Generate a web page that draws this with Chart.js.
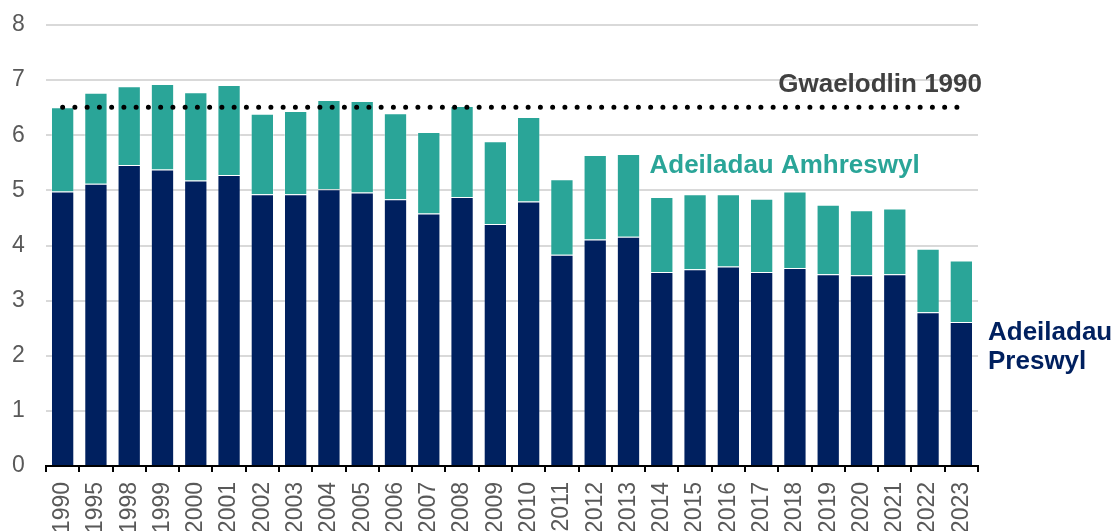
<!DOCTYPE html>
<html>
<head>
<meta charset="utf-8">
<script src="https://cdn.jsdelivr.net/npm/chart.js@4"></script>
<style>
  html, body { margin: 0; padding: 0; background: #fff; }
  canvas { display: block; }
</style>
</head>
<body>
<canvas id="emissions" width="1113" height="531"></canvas>
<script>
// 🔹 data
const years = [
  "1990", "1995", "1998", "1999", "2000", "2001", "2002", "2003", "2004", "2005",
  "2006", "2007", "2008", "2009", "2010", "2011", "2012", "2013", "2014", "2015",
  "2016", "2017", "2018", "2019", "2020", "2021", "2022", "2023"
];
const residential = [
  4.98, 5.12, 5.46, 5.38, 5.18, 5.28, 4.93, 4.93, 5.02, 4.96,
  4.84, 4.58, 4.88, 4.39, 4.80, 3.83, 4.11, 4.16, 3.52, 3.57,
  3.62, 3.52, 3.59, 3.48, 3.46, 3.48, 2.79, 2.61
];
const nonResidential = [
  1.53, 1.65, 1.43, 1.55, 1.60, 1.63, 1.46, 1.51, 1.62, 1.66,
  1.56, 1.48, 1.65, 1.50, 1.53, 1.37, 1.53, 1.50, 1.36, 1.36,
  1.31, 1.33, 1.39, 1.26, 1.18, 1.19, 1.15, 1.12
];
const baseline1990 = 6.51;
const yTicks = [0, 1, 2, 3, 4, 5, 6, 7, 8];

const NAVY = "#00205f";
const TEAL = "#2aa598";
const TICK_GREY = "#595959";
const FONT = "'Liberation Sans', Arial, sans-serif";

// 🔹 text labels next to the bars
const seriesLabels = {
  id: "seriesLabels",
  afterDatasetsDraw(chart) {
    const { ctx, chartArea, scales } = chart;
    const x = scales.x, y = scales.y;
    ctx.save();
    ctx.font = `bold 26px ${FONT}`;
    ctx.textBaseline = "middle";

    ctx.fillStyle = "#404040";
    ctx.textAlign = "right";
    ctx.fillText("Gwaelodlin 1990", chartArea.right + 4, y.getPixelForValue(baseline1990) - 22);

    ctx.fillStyle = TEAL;
    ctx.textAlign = "left";
    ctx.fillText("Adeiladau Amhreswyl", x.getPixelForValue(17) + 21, y.getPixelForValue(5.44));

    ctx.fillStyle = NAVY;
    ctx.fillText("Adeiladau", chartArea.right + 10, y.getPixelForValue(2.42));
    ctx.fillText("Preswyl", chartArea.right + 10, y.getPixelForValue(1.89));
    ctx.restore();
  }
};

function drawChart() {
  const ctx = document.getElementById("emissions").getContext("2d");

  new Chart(ctx, {
    type: "bar",
    data: {
      labels: years,
      datasets: [
        {
          type: "line",
          label: "Gwaelodlin 1990",
          data: years.map(() => baseline1990),
          stack: "baseline",
          borderColor: "#000",
          borderWidth: 5,
          borderDash: [0, 12.25],
          borderCapStyle: "round",
          pointRadius: 0,
          fill: false,
          order: 0
        },
        {
          label: "Adeiladau Preswyl",
          data: residential,
          stack: "buildings",
          backgroundColor: NAVY,
          borderColor: "rgba(255,255,255,0.12)",
          borderWidth: 1,
          categoryPercentage: 1,
          barPercentage: 0.7,
          order: 1
        },
        {
          label: "Adeiladau Amhreswyl",
          data: nonResidential,
          stack: "buildings",
          backgroundColor: TEAL,
          borderColor: "rgba(255,255,255,0.3)",
          borderWidth: 1,
          categoryPercentage: 1,
          barPercentage: 0.7,
          order: 1
        }
      ]
    },
    options: {
      responsive: false,
      animation: false,
      layout: { padding: { top: 25, right: 135, left: 12, bottom: 0 } },
      plugins: {
        legend: { display: false },
        title: { display: false },
        tooltip: { enabled: false }
      },
      scales: {
        x: {
          stacked: true,
          afterFit: (scale) => { scale.height = 65; },
          border: { display: true, color: "#000", width: 2 },
          grid: {
            display: true,
            offset: true,
            drawOnChartArea: false,
            drawTicks: true,
            tickLength: 6,
            color: "#000",
            lineWidth: 2
          },
          ticks: {
            autoSkip: false,
            maxRotation: 90,
            minRotation: 90,
            padding: 10,
            color: TICK_GREY,
            font: { family: FONT, size: 23 }
          }
        },
        y: {
          stacked: true,
          min: 0,
          max: 8,
          afterFit: (scale) => { scale.width = 34; },
          afterBuildTicks: (scale) => { scale.ticks = yTicks.map(v => ({ value: v })); },
          border: { display: false },
          grid: { color: "#d9d9d9", lineWidth: 2, drawTicks: false },
          ticks: {
            padding: 0,
            crossAlign: "far",
            color: TICK_GREY,
            font: { family: FONT, size: 23 }
          }
        }
      }
    },
    plugins: [seriesLabels]
  });
}

drawChart();
</script>
</body>
</html>
